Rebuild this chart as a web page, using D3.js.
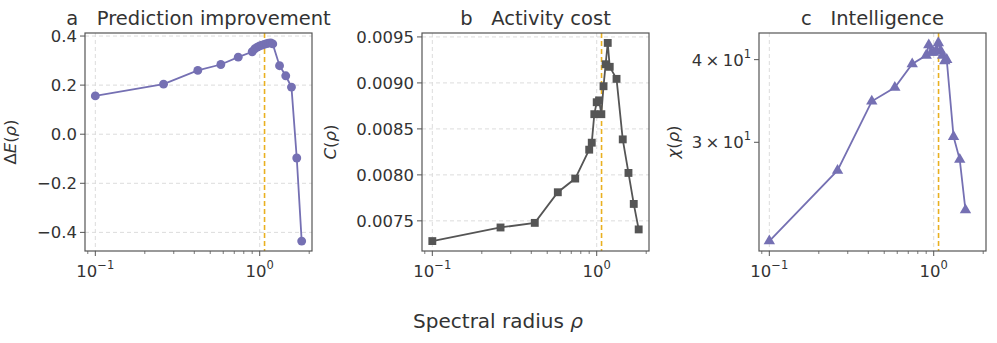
<!DOCTYPE html>
<html>
<head>
<meta charset="utf-8">
<script src="https://cdn.jsdelivr.net/npm/d3@7"></script>
<style>
  body { margin: 0; background: #fff; }
  text { font-family: "DejaVu Sans", sans-serif; fill: #333; }
</style>
</head>
<body>
<div id="chart"></div>
<script>
// chart data
let rho = [0.1, 0.26, 0.42, 0.58, 0.74, 0.9, 0.933, 0.967, 1.0, 1.033,
           1.067, 1.1, 1.133, 1.167, 1.2, 1.32, 1.44, 1.56, 1.68, 1.8];
let deltaE = [0.156, 0.204, 0.26, 0.284, 0.314, 0.336, 0.348, 0.355, 0.36, 0.363,
              0.366, 0.369, 0.371, 0.372, 0.368, 0.279, 0.238, 0.192, -0.097, -0.4355];
let cost = [0.00728, 0.007428, 0.007478, 0.007811, 0.00796, 0.008274, 0.00835, 0.00866, 0.00879, 0.00881,
            0.00866, 0.008964, 0.009203, 0.009435, 0.009175, 0.009044, 0.008386, 0.008021, 0.007684, 0.007407];
let chi = [21.27, 27.2, 34.6, 36.3, 39.4, 40.6, 42.1, 41.0, 41.0, 41.2,
           42.4, 41.3, 40.6, 39.8, 40.0, 30.6, 28.25, 23.7];
let criticalRho = 1.07;

let panelLetters = ["a", "b", "c"];
let panelTitles = ["Prediction improvement", "Activity cost", "Intelligence"];
let xTickValues = [0.1, 1];
let xTickExponents = ["\u22121", "0"];
let yTicksA = [-0.4, -0.2, 0.0, 0.2, 0.4];
let yTicksB = [0.0075, 0.0080, 0.0085, 0.0090, 0.0095];
let yTicksC = [30, 40];
let yTicksCLabels = ["3", "4"];

// Set up conventions
let width = 997;
let height = 343;
let plotTop = 33, plotBottom = 251;
let panelLeft = [85, 422, 759];
let panelWidth = 227;
let purple = "#7570b3";
let grey = "#555555";
let gold = "#e9b020";
let spine = "#555";

let svg = d3.select("#chart").append("svg")
    .attr("width", width)
    .attr("height", height);

// shared log x scale with matplotlib-like 5% margins
let lx0 = Math.log10(d3.min(rho)), lx1 = Math.log10(d3.max(rho));
let pad = (lx1 - lx0) * 0.05;
let xDomain = [Math.pow(10, lx0 - pad), Math.pow(10, lx1 + pad)];

function padLinear(vals) {
    let lo = d3.min(vals), hi = d3.max(vals), p = (hi - lo) * 0.05;
    return [lo - p, hi + p];
}
function padLog(vals) {
    let lo = Math.log10(d3.min(vals)), hi = Math.log10(d3.max(vals)), p = (hi - lo) * 0.05;
    return [Math.pow(10, lo - p), Math.pow(10, hi + p)];
}

let panels = [
    {ys: deltaE, yScale: d3.scaleLinear().domain(padLinear(deltaE)), ticks: yTicksA,
     fmt: d => d3.format(".1f")(d).replace("-", "\u2212"), color: purple, symbol: d3.symbolCircle, size: 62,
     ygrid: true, labelX: -69, label: [["\u0394", false], ["E", true], ["(", false], ["\u03c1", true], [")", false]]},
    {ys: cost, yScale: d3.scaleLinear().domain(padLinear(cost)), ticks: yTicksB,
     fmt: d => d3.format(".4f")(d), color: grey, symbol: d3.symbolSquare, size: 62,
     ygrid: true, labelX: -86, label: [["C", true], ["(", false], ["\u03c1", true], [")", false]]},
    {ys: chi, yScale: d3.scaleLog().domain(padLog(chi)), ticks: yTicksC,
     fmt: null, color: purple, symbol: d3.symbolTriangle, size: 56,
     ygrid: false, labelX: -80, label: [["\u03c7", true], ["(", false], ["\u03c1", true], [")", false]]}
];

panels.forEach((p, i) => {
    let g = svg.append("g").attr("transform", "translate(" + panelLeft[i] + ",0)");
    let xScale = d3.scaleLog().domain(xDomain).range([0, panelWidth]);
    let yScale = p.yScale.range([plotBottom, plotTop]);

    // grid
    g.selectAll(".xgrid").data(xTickValues).enter().append("line")
        .attr("x1", d => xScale(d)).attr("x2", d => xScale(d))
        .attr("y1", plotTop).attr("y2", plotBottom)
        .attr("stroke", "#dcdcdc").attr("stroke-width", 1).attr("stroke-dasharray", "4,3");
    if (p.ygrid) {
        g.selectAll(".ygrid").data(p.ticks).enter().append("line")
            .attr("x1", 0).attr("x2", panelWidth)
            .attr("y1", d => yScale(d)).attr("y2", d => yScale(d))
            .attr("stroke", "#dcdcdc").attr("stroke-width", 1).attr("stroke-dasharray", "4,3");
    }

    // critical spectral radius
    g.append("line")
        .attr("x1", xScale(criticalRho)).attr("x2", xScale(criticalRho))
        .attr("y1", plotTop).attr("y2", plotBottom)
        .attr("stroke", gold).attr("stroke-width", 1.6).attr("stroke-dasharray", "5,3");

    // line + markers
    let pts = p.ys.map((v, k) => ({x: rho[k], y: v}));
    let line = d3.line().x(d => xScale(d.x)).y(d => yScale(d.y));
    g.append("path").datum(pts)
        .attr("d", line)
        .attr("fill", "none")
        .attr("stroke", p.color)
        .attr("stroke-width", 1.8);
    g.selectAll(".mark").data(pts).enter().append("path")
        .attr("transform", d => "translate(" + xScale(d.x) + "," + yScale(d.y) + ")")
        .attr("d", d3.symbol().type(p.symbol).size(p.size))
        .attr("fill", p.color);

    // x axis ticks (major + minor)
    let minor = [];
    for (let k = 2; k <= 9; k++) minor.push(k / 100, k / 10, k);
    minor = minor.filter(d => d > xDomain[0] && d < xDomain[1]);
    g.selectAll(".xminor").data(minor).enter().append("line")
        .attr("x1", d => xScale(d)).attr("x2", d => xScale(d))
        .attr("y1", plotBottom).attr("y2", plotBottom + 3)
        .attr("stroke", spine).attr("stroke-width", 0.8);
    g.selectAll(".xmajor").data(xTickValues).enter().append("line")
        .attr("x1", d => xScale(d)).attr("x2", d => xScale(d))
        .attr("y1", plotBottom).attr("y2", plotBottom + 5)
        .attr("stroke", spine).attr("stroke-width", 1);
    let xl = g.selectAll(".xlab").data(xTickValues).enter().append("text")
        .attr("x", d => xScale(d))
        .attr("y", 277)
        .attr("text-anchor", "middle")
        .style("font-size", "16.5px");
    xl.append("tspan").text("10");
    xl.append("tspan").attr("dy", -8).style("font-size", "11.5px").text((d, k) => xTickExponents[k]);

    // y axis ticks
    g.selectAll(".ytick").data(p.ticks).enter().append("line")
        .attr("x1", -5).attr("x2", 0)
        .attr("y1", d => yScale(d)).attr("y2", d => yScale(d))
        .attr("stroke", spine).attr("stroke-width", 1);
    let yl = g.selectAll(".ylab").data(p.ticks).enter().append("text")
        .attr("x", -8)
        .attr("y", d => yScale(d))
        .attr("dy", "0.36em")
        .attr("text-anchor", "end")
        .style("font-size", "16.5px");
    if (p.fmt) {
        yl.text(p.fmt);
    } else {
        yl.append("tspan").text((d, k) => yTicksCLabels[k] + "\u2009\u00d7\u200910");
        yl.append("tspan").attr("dy", -8).style("font-size", "11.5px").text("1");
    }

    // y label
    let lab = g.append("text")
        .attr("transform", "translate(" + p.labelX + "," + ((plotTop + plotBottom) / 2) + ") rotate(-90)")
        .attr("text-anchor", "middle")
        .style("font-size", "16.5px");
    p.label.forEach(part => {
        lab.append("tspan").style("font-style", part[1] ? "italic" : "normal").text(part[0]);
    });

    // frame
    g.append("rect")
        .attr("x", 0).attr("y", plotTop)
        .attr("width", panelWidth).attr("height", plotBottom - plotTop)
        .attr("fill", "none").attr("stroke", spine).attr("stroke-width", 1.2);

    // title
    g.append("text")
        .attr("x", panelWidth / 2)
        .attr("y", 25)
        .attr("text-anchor", "middle")
        .style("font-size", "19.5px")
        .style("white-space", "pre")
        .text(panelLetters[i] + "   " + panelTitles[i]);
});

// shared x label
let xlab = svg.append("text")
    .attr("x", 498)
    .attr("y", 328)
    .attr("text-anchor", "middle")
    .style("font-size", "20px");
xlab.append("tspan").text("Spectral radius ");
xlab.append("tspan").style("font-style", "italic").text("\u03c1");
</script>
</body>
</html>
